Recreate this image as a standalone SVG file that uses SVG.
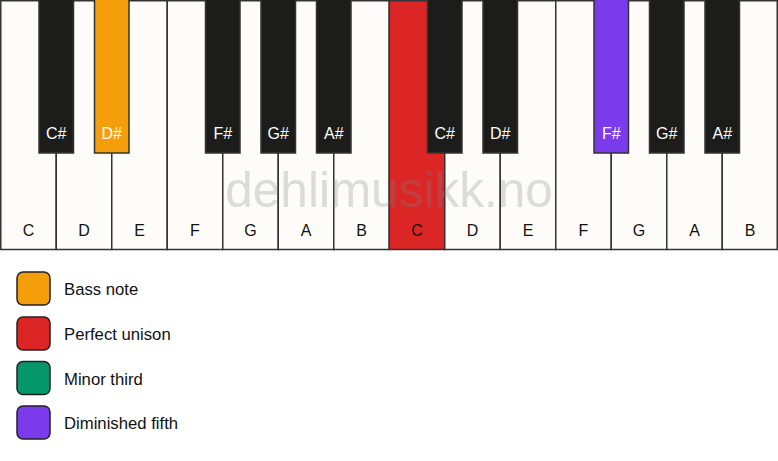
<svg xmlns="http://www.w3.org/2000/svg" width="778" height="461" viewBox="0 0 778 461">
<style>
.w{fill:#fdfcf8;stroke:#333;stroke-width:1.5}
.b{fill:#1c1c1a;stroke:#333;stroke-width:1.5}
.wl{font-family:"Liberation Sans",Arial,sans-serif;font-size:16px;fill:#111;text-anchor:middle}
.bl{font-family:"Liberation Sans",Arial,sans-serif;font-size:16px;fill:#fff;text-anchor:middle}
.lg{stroke:#222;stroke-width:1.5}
.lt{font-family:"Liberation Sans",Arial,sans-serif;font-size:16.7px;fill:#111}
.wm{font-family:"Liberation Sans",Arial,sans-serif;font-size:49.5px;fill:#808080;fill-opacity:0.27;text-anchor:middle}
</style>
<rect width="778" height="461" fill="#ffffff"/>
<g id="white-keys">
<g id="w-C1"><rect class="w" x="0.75" y="0.75" width="55.5" height="248.75"/><text class="wl" x="28.5" y="236">C</text></g>
<g id="w-D1"><rect class="w" x="56.25" y="0.75" width="55.5" height="248.75"/><text class="wl" x="84" y="236">D</text></g>
<g id="w-E1"><rect class="w" x="111.75" y="0.75" width="55.5" height="248.75"/><text class="wl" x="139.5" y="236">E</text></g>
<g id="w-F1"><rect class="w" x="167.25" y="0.75" width="55.5" height="248.75"/><text class="wl" x="195" y="236">F</text></g>
<g id="w-G1"><rect class="w" x="222.75" y="0.75" width="55.5" height="248.75"/><text class="wl" x="250.5" y="236">G</text></g>
<g id="w-A1"><rect class="w" x="278.25" y="0.75" width="55.5" height="248.75"/><text class="wl" x="306" y="236">A</text></g>
<g id="w-B1"><rect class="w" x="333.75" y="0.75" width="55.5" height="248.75"/><text class="wl" x="361.5" y="236">B</text></g>
<g id="w-C2"><rect class="w" x="389.25" y="0.75" width="55.5" height="248.75" style="fill:#dc2626"/><text class="wl" x="417" y="236">C</text></g>
<g id="w-D2"><rect class="w" x="444.75" y="0.75" width="55.5" height="248.75"/><text class="wl" x="472.5" y="236">D</text></g>
<g id="w-E2"><rect class="w" x="500.25" y="0.75" width="55.5" height="248.75"/><text class="wl" x="528" y="236">E</text></g>
<g id="w-F2"><rect class="w" x="555.75" y="0.75" width="55.5" height="248.75"/><text class="wl" x="583.5" y="236">F</text></g>
<g id="w-G2"><rect class="w" x="611.25" y="0.75" width="55.5" height="248.75"/><text class="wl" x="639" y="236">G</text></g>
<g id="w-A2"><rect class="w" x="666.75" y="0.75" width="55.5" height="248.75"/><text class="wl" x="694.5" y="236">A</text></g>
<g id="w-B2"><rect class="w" x="722.25" y="0.75" width="55" height="248.75"/><text class="wl" x="750" y="236">B</text></g>
</g>
<g id="black-keys">
<g id="b-Cs1"><rect class="b" x="39" y="-2" width="34.5" height="155"/><text class="bl" x="56.25" y="139">C#</text></g>
<g id="b-Ds1"><rect class="b" x="94.5" y="-2" width="34.5" height="155" style="fill:#f59e0b"/><text class="bl" x="111.75" y="139">D#</text></g>
<g id="b-Fs1"><rect class="b" x="205.5" y="-2" width="34.5" height="155"/><text class="bl" x="222.75" y="139">F#</text></g>
<g id="b-Gs1"><rect class="b" x="261" y="-2" width="34.5" height="155"/><text class="bl" x="278.25" y="139">G#</text></g>
<g id="b-As1"><rect class="b" x="316.5" y="-2" width="34.5" height="155"/><text class="bl" x="333.75" y="139">A#</text></g>
<g id="b-Cs2"><rect class="b" x="427.5" y="-2" width="34.5" height="155"/><text class="bl" x="444.75" y="139">C#</text></g>
<g id="b-Ds2"><rect class="b" x="483" y="-2" width="34.5" height="155"/><text class="bl" x="500.25" y="139">D#</text></g>
<g id="b-Fs2"><rect class="b" x="594" y="-2" width="34.5" height="155" style="fill:#7c3aed"/><text class="bl" x="611.25" y="139">F#</text></g>
<g id="b-Gs2"><rect class="b" x="649.5" y="-2" width="34.5" height="155"/><text class="bl" x="666.75" y="139">G#</text></g>
<g id="b-As2"><rect class="b" x="705" y="-2" width="34.5" height="155"/><text class="bl" x="722.25" y="139">A#</text></g>
</g>
<text class="wm" x="389" y="207">dehlimusikk.no</text>
<g id="legend">
<g id="lg-bass"><rect class="lg" x="17" y="272" width="33" height="33" rx="6" fill="#f59e0b"/><text class="lt" x="64" y="295">Bass note</text></g>
<g id="lg-unison"><rect class="lg" x="17" y="317" width="33" height="33" rx="6" fill="#dc2626"/><text class="lt" x="64" y="340">Perfect unison</text></g>
<g id="lg-third"><rect class="lg" x="17" y="361.5" width="33" height="33" rx="6" fill="#059669"/><text class="lt" x="64" y="384.5">Minor third</text></g>
<g id="lg-fifth"><rect class="lg" x="17" y="406" width="33" height="33" rx="6" fill="#7c3aed"/><text class="lt" x="64" y="429">Diminished fifth</text></g>
</g>
</svg>
